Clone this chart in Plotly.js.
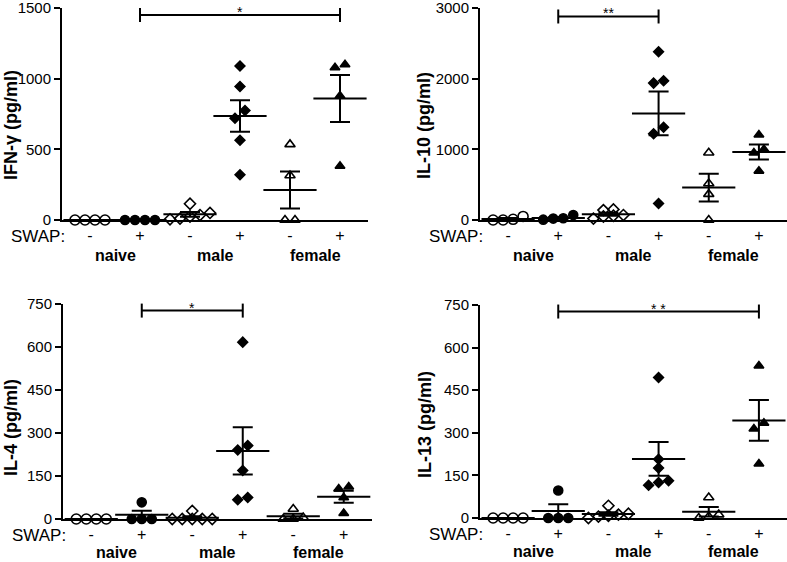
<!DOCTYPE html>
<html><head><meta charset="utf-8">
<script src="https://cdn.plot.ly/plotly-3.0.1.min.js"></script>
<style>html,body{margin:0;padding:0;background:#fff}</style>
</head><body><div id="chart" style="width:787px;height:562px"></div>
<script>
// ---- categories / labels ----
const swapLabels = ['-', '+', '-', '+', '-', '+'];
const sexLabels = ['naive', 'male', 'female'];
const panelTitles = ['IFN-γ (pg/ml)', 'IL-10 (pg/ml)', 'IL-4 (pg/ml)', 'IL-13 (pg/ml)'];
const panelMax = [1500, 3000, 750, 750];
const panelTicks = [[0, 500, 1000, 1500], [0, 1000, 2000, 3000], [0, 150, 300, 450, 600, 750], [0, 150, 300, 450, 600, 750]];

// ---- IFN-gamma ----
const ifngNaiveNeg = [0, 0, 0, 0];
const ifngNaivePos = [0, 0, 0, 0];
const ifngMaleNeg = [115, 50, 35, 25, 10, 5];
const ifngMalePos = [1090, 945, 775, 720, 565, 320];
const ifngFemaleNeg = [535, 315, 0, 0];
const ifngFemalePos = [1100, 1078, 879, 382];
// ---- IL-10 ----
const il10NaiveNeg = [0, 50, 0, 10];
const il10NaivePos = [5, 70, 20, 25];
const il10MaleNeg = [60, 140, 70, 50, 150, 20];
const il10MalePos = [2381, 1969, 1937, 1312, 1219, 235];
const il10FemaleNeg = [952, 516, 366, 0];
const il10FemalePos = [1205, 1000, 950, 694];
// ---- IL-4 ----
const il4NaiveNeg = [0, 0, 0, 0];
const il4NaivePos = [58, 0, 0, 0];
const il4MaleNeg = [28, 0, 0, 0, 0, 0];
const il4MalePos = [617, 256, 241, 169, 75, 67];
const il4FemaleNeg = [35, 5, 0, 0];
const il4FemalePos = [105, 112, 75, 20];
// ---- IL-13 ----
const il13NaiveNeg = [0, 0, 0, 0];
const il13NaivePos = [97, 0, 0, 0];
const il13MaleNeg = [43, 15, 12, 8, 5, 0];
const il13MalePos = [495, 207, 176, 131, 125, 115];
const il13FemaleNeg = [72, 12, 5, 0];
const il13FemalePos = [536, 334, 314, 191];

// ---- significance brackets (group index from/to, level, text) ----
const sigFrom = [1, 1, 1, 1];
const sigTo = [5, 3, 3, 5];
const sigLevel = [1450, 2880, 727, 727];
const sigText = ['*', '**', '*', '* *'];

const panelData = [
  [ifngNaiveNeg, ifngNaivePos, ifngMaleNeg, ifngMalePos, ifngFemaleNeg, ifngFemalePos],
  [il10NaiveNeg, il10NaivePos, il10MaleNeg, il10MalePos, il10FemaleNeg, il10FemalePos],
  [il4NaiveNeg, il4NaivePos, il4MaleNeg, il4MalePos, il4FemaleNeg, il4FemalePos],
  [il13NaiveNeg, il13NaivePos, il13MaleNeg, il13MalePos, il13FemaleNeg, il13FemalePos]
];

// ---- layout geometry (pixels) ----
const W = 787, H = 562;
const boxes = [ // [left, right, top, bottom]
  [62, 368, 8, 220],
  [480, 787, 8, 220],
  [63, 372, 304, 519],
  [480, 787, 305, 518]
];
const titlePos = [[11, 125], [424, 125], [11, 428], [425, 425]]; // y-title centre (px)
const XR = [-0.56, 5.56];
const symbols = ['circle-open', 'circle', 'diamond-open', 'diamond', 'triangle-up-open', 'triangle-up'];
const sizes = [10, 9, 8.5, 7.5, 9, 8.5];
const FONT = 'Liberation Sans, Arial, sans-serif';
const INK = '#000';

function swarm(vals, yPx, xPx) {
  const idx = vals.map((v, i) => i).sort((a, b) => vals[a] - vals[b]);
  const clusters = []; let cur = [];
  idx.forEach(i => {
    if (cur.length && (vals[i] - vals[cur[0]]) * yPx > 8) { clusters.push(cur); cur = []; }
    cur.push(i);
  });
  if (cur.length) clusters.push(cur);
  const off = new Array(vals.length).fill(0);
  clusters.forEach(c => c.forEach((i, k) => { off[i] = (k - (c.length - 1) / 2) * 10 / xPx; }));
  return off;
}
function mean(a) { return a.reduce((s, v) => s + v, 0) / a.length; }
function sem(a) {
  const m = mean(a);
  const v = a.reduce((s, x) => s + (x - m) * (x - m), 0) / (a.length - 1);
  return Math.sqrt(v) / Math.sqrt(a.length);
}

const traces = [];
const layout = {
  width: W, height: H, margin: {l: 0, r: 0, t: 0, b: 0},
  paper_bgcolor: '#fff', plot_bgcolor: '#fff', showlegend: false,
  font: {family: FONT, color: INK, size: 15},
  annotations: []
};

panelData.forEach((groups, p) => {
  const [L, R, T, B] = boxes[p];
  const n = p + 1;
  const xa = 'x' + (n === 1 ? '' : n), ya = 'y' + (n === 1 ? '' : n);
  const xPx = (R - L) / (XR[1] - XR[0]);
  const yPx = (B - T) / panelMax[p];
  layout['xaxis' + (n === 1 ? '' : n)] = {
    domain: [L / W, R / W], anchor: ya, range: XR, showgrid: false, zeroline: false,
    showline: true, linewidth: 2, linecolor: INK, ticks: '',
    tickvals: [0, 1, 2, 3, 4, 5], ticktext: swapLabels, tickfont: {size: 16, family: FONT, color: INK},
    automargin: false, fixedrange: true
  };
  layout['yaxis' + (n === 1 ? '' : n)] = {
    domain: [1 - B / H, 1 - T / H], anchor: xa, range: [0, panelMax[p]], showgrid: false, zeroline: false,
    showline: true, linewidth: 2, linecolor: INK, ticks: 'outside', ticklen: 6, tickwidth: 2, tickcolor: INK,
    tickvals: panelTicks[p], tickfont: {size: 15, family: FONT, color: INK}, ticklabeloverflow: 'allow',
    automargin: false, fixedrange: true
  };
  // y-axis title
  layout.annotations.push({
    xref: 'paper', yref: 'paper', x: titlePos[p][0] / W, y: 1 - titlePos[p][1] / H,
    xanchor: 'center', yanchor: 'middle', textangle: -90,
    text: '<b>' + panelTitles[p] + '</b>', showarrow: false, font: {size: 18, family: FONT, color: INK}
  });
  groups.forEach((vals, g) => {
    const off = swarm(vals, yPx, xPx);
    traces.push({
      type: 'scatter', mode: 'markers', xaxis: xa, yaxis: ya, cliponaxis: false,
      x: vals.map((v, i) => g + off[i]), y: vals,
      marker: {symbol: symbols[g], size: sizes[g], color: INK, line: {color: INK, width: 1.6}},
      hoverinfo: 'y'
    });
    traces.push({
      type: 'scatter', mode: 'markers', xaxis: xa, yaxis: ya, cliponaxis: false,
      x: [g], y: [mean(vals)],
      marker: {symbol: 'line-ew', size: 38, color: INK, line: {color: INK, width: 2}},
      error_y: {type: 'data', array: [sem(vals)], visible: true, color: INK, thickness: 2, width: 10},
      hoverinfo: 'skip'
    });
  });
  // significance bracket
  traces.push({
    type: 'scatter', mode: 'lines+markers', xaxis: xa, yaxis: ya, cliponaxis: false,
    x: [sigFrom[p], sigTo[p]], y: [sigLevel[p], sigLevel[p]],
    line: {color: INK, width: 2},
    marker: {symbol: 'line-ns', size: 10, color: INK, line: {color: INK, width: 2}},
    hoverinfo: 'skip'
  });
  layout.annotations.push({
    xref: xa, yref: ya, x: (sigFrom[p] + sigTo[p]) / 2, y: sigLevel[p], yanchor: 'top', yshift: 13,
    text: sigText[p], showarrow: false, font: {size: 14, family: FONT, color: INK}
  });
  // SWAP label
  layout.annotations.push({
    xref: xa + ' domain', yref: ya + ' domain', x: 0.015, y: -16 / (B - T), xanchor: 'right', yanchor: 'middle',
    text: 'SWAP:', showarrow: false, font: {size: 17, family: FONT, color: INK}
  });
  // group labels
  sexLabels.forEach((s, k) => {
    layout.annotations.push({
      xref: xa, yref: ya + ' domain', x: 2 * k + 0.5, y: -(p < 2 ? 35 : 33) / (B - T), yanchor: 'middle',
      text: '<b>' + s + '</b>', showarrow: false, font: {size: 16, family: FONT, color: INK}
    });
  });
});

Plotly.newPlot('chart', traces, layout, {displayModeBar: false, staticPlot: true});
</script></body></html>
